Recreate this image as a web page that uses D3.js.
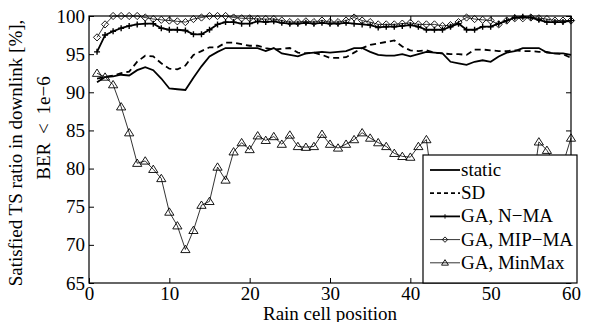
<!DOCTYPE html>
<html>
<head>
<meta charset="utf-8">
<script src="https://cdn.jsdelivr.net/npm/d3@7"></script>
<style>
  body { margin: 0; background: #fff; }
  svg { display: block; }
  svg text { font-family: "Liberation Serif", "Times New Roman", serif; fill: #000; }
</style>
</head>
<body>
<div id="chart"></div>
<script>
// rain cell positions (x categories)
const positions = [1,2,3,4,5,6,7,8,9,10,11,12,13,14,15,16,17,18,19,20,21,22,23,24,25,26,27,28,29,30,
  31,32,33,34,35,36,37,38,39,40,41,42,43,44,45,46,47,48,49,50,51,52,53,54,55,56,57,58,59,60];

const staticVals = [91.3,92.0,92.1,92.3,92.2,92.9,93.3,92.9,91.8,90.5,90.4,90.3,91.9,93.4,94.7,95.3,95.8,95.8,95.8,95.8,
  95.8,95.4,95.8,95.1,94.9,94.7,95.1,95.2,95.3,95.2,95.3,95.4,95.8,95.8,95.3,94.9,94.8,94.8,95.0,94.7,
  95.0,95.3,95.2,95.1,94.0,93.8,93.6,94.0,94.2,94.0,94.7,95.2,95.4,95.8,95.8,95.8,95.2,95.1,95.1,94.9];

const sdVals = [91.8,92.0,92.2,92.5,92.7,94.0,94.8,94.7,93.8,93.1,93.0,93.5,94.9,95.4,95.9,95.9,96.5,96.5,96.3,96.1,
  96.1,95.8,95.6,95.7,95.8,95.2,95.1,95.2,94.9,94.5,94.5,94.6,95.2,95.8,96.2,96.4,96.6,96.8,96.0,95.5,
  95.4,95.5,95.2,95.1,95.0,95.0,94.9,95.6,95.6,95.5,95.4,95.4,95.5,95.4,95.4,95.3,95.3,95.1,95.0,94.5];

const nmaVals = [95.3,97.5,98.0,98.4,98.7,98.9,99.0,99.0,98.4,98.2,98.2,98.1,97.6,97.6,98.2,98.9,99.2,99.2,99.0,99.0,
  99.3,99.2,99.3,99.1,99.0,99.0,99.1,99.0,99.1,99.0,99.0,99.1,99.0,98.9,98.8,98.5,98.6,98.6,98.7,98.8,
  98.6,98.2,98.2,98.2,98.6,99.0,98.2,98.2,98.6,98.6,99.0,99.4,99.8,99.9,99.8,99.5,99.2,99.2,99.2,99.4];

const mipVals = [97.2,98.9,100,100,100,100,99.8,99.6,99.5,99.4,99.3,99.2,99.6,99.8,100,100,100,99.8,99.7,99.7,
  99.6,99.6,99.6,99.4,99.2,99.2,99.3,99.2,99.4,99.2,99.2,99.4,99.8,99.4,99.2,98.9,98.9,98.9,99.0,99.1,
  98.9,98.9,98.9,98.7,98.8,99.2,99.8,99.6,99.5,99.4,98.9,99.4,99.7,99.7,99.8,99.7,99.6,99.4,99.4,99.4];

const minmaxVals = [92.5,92.0,91.0,88.1,84.7,80.7,81.0,79.9,78.7,74.3,72.5,69.4,71.9,75.2,75.7,80.2,78.5,82.2,83.4,82.5,
  84.3,83.7,84.2,83.2,84.4,82.9,82.8,82.9,84.5,83.2,82.7,83.2,83.8,84.7,84.0,83.4,82.9,82.0,81.6,81.5,
  82.9,83.8,76.0,75.5,77.0,76.5,78.0,77.5,76.8,77.8,78.5,77.0,76.5,77.2,76.2,83.5,82.4,80.6,80.6,84.0];

const seriesNames = ['static', 'SD', 'GA, N\u2212MA', 'GA, MIP\u2212MA', 'GA, MinMax'];
const xTicks = [0, 10, 20, 30, 40, 50, 60];
const yTicks = [65, 70, 75, 80, 85, 90, 95, 100];
const xTitle = 'Rain cell position';
const yTitle = ['Satisfied TS ratio in downlink [%],', 'BER < 1e\u22126'];

const W = 589, H = 322;
const plot = { left: 89, right: 571, top: 16, bottom: 283 };
const FONT = '"Liberation Serif", "Times New Roman", serif';
const FS = 19;

const svg = d3.select('#chart').append('svg')
  .attr('width', W)
  .attr('height', H);

const x = d3.scaleLinear().domain([0, 60]).range([plot.left, plot.right]);
const y = d3.scaleLinear().domain([65, 100]).range([plot.bottom, plot.top]);

function styleAxis(g) {
  g.attr('font-family', FONT).attr('font-size', FS);
  g.select('.domain').remove();
  g.selectAll('.tick line').attr('stroke', '#000');
  g.selectAll('.tick text').attr('fill', '#000');
}

// axes, ticks pointing inward
svg.append('g')
  .attr('transform', `translate(0,${plot.bottom})`)
  .call(d3.axisBottom(x).tickValues(xTicks).tickSize(-5).tickPadding(4))
  .call(styleAxis);

svg.append('g')
  .attr('transform', `translate(0,${plot.top})`)
  .call(d3.axisTop(x).tickValues(xTicks).tickSize(-5).tickFormat(''))
  .call(styleAxis);

svg.append('g')
  .attr('transform', `translate(${plot.left},0)`)
  .call(d3.axisLeft(y).tickValues(yTicks).tickSize(-5).tickPadding(4))
  .call(styleAxis);

svg.append('g')
  .attr('transform', `translate(${plot.right},0)`)
  .call(d3.axisRight(y).tickValues(yTicks).tickSize(-5).tickFormat(''))
  .call(styleAxis);

svg.append('rect')
  .attr('x', plot.left)
  .attr('y', plot.top)
  .attr('width', plot.right - plot.left)
  .attr('height', plot.bottom - plot.top)
  .attr('fill', 'none')
  .attr('stroke', '#000')
  .attr('stroke-width', 1.2);

// axis titles
svg.append('text')
  .attr('x', (plot.left + plot.right) / 2)
  .attr('y', 319.5)
  .attr('text-anchor', 'middle')
  .attr('font-size', FS)
  .text(xTitle);

svg.append('text')
  .attr('transform', 'translate(22,153) rotate(-90)')
  .attr('text-anchor', 'middle')
  .attr('font-size', FS)
  .text(yTitle[0]);

svg.append('text')
  .attr('transform', 'translate(50,128) rotate(-90)')
  .attr('text-anchor', 'middle')
  .attr('font-size', FS)
  .attr('word-spacing', 4)
  .text(yTitle[1]);

// series
const series = [
  { name: seriesNames[0], vals: staticVals, width: 1.8, dash: null, marker: null },
  { name: seriesNames[1], vals: sdVals, width: 1.8, dash: '6,4', marker: null },
  { name: seriesNames[2], vals: nmaVals, width: 1.8, dash: null, marker: 'plus' },
  { name: seriesNames[3], vals: mipVals, width: 0.8, dash: null, marker: 'diamond' },
  { name: seriesNames[4], vals: minmaxVals, width: 0.8, dash: null, marker: 'triangle' }
];

const line = d3.line()
  .x(d => x(d.pos))
  .y(d => y(d.val));

function markerPath(type, s) {
  if (type === 'plus') return `M${-s},0H${s}M0,${-s}V${s}`;
  if (type === 'diamond') return `M0,${-s}L${s},0L0,${s}L${-s},0Z`;
  if (type === 'triangle') return `M0,${-s}L${s * 1.1},${s * 0.75}L${-s * 1.1},${s * 0.75}Z`;
  return '';
}
const markerSize = { plus: 3, diamond: 3.6, triangle: 4.2 };

series.forEach(s => {
  const pts = positions.map((p, i) => ({ pos: p, val: s.vals[i] }));
  svg.append('path')
    .datum(pts)
    .attr('fill', 'none')
    .attr('stroke', '#000')
    .attr('stroke-width', s.width)
    .attr('stroke-dasharray', s.dash)
    .attr('d', line);

  if (s.marker) {
    svg.append('g')
      .selectAll('path')
      .data(pts)
      .join('path')
      .attr('transform', d => `translate(${x(d.pos)},${y(d.val)})`)
      .attr('d', markerPath(s.marker, markerSize[s.marker]))
      .attr('fill', 'none')
      .attr('stroke', '#000')
      .attr('stroke-width', s.marker === 'plus' ? 1.4 : 0.9);
  }
});

// legend
const lg = svg.append('g');
lg.append('rect')
  .attr('x', 423)
  .attr('y', 155)
  .attr('width', 154)
  .attr('height', 128)
  .attr('fill', '#fff')
  .attr('stroke', '#000')
  .attr('stroke-width', 1.2);

series.forEach((s, i) => {
  const cy = 170 + i * 23.2;
  lg.append('line')
    .attr('x1', 430).attr('x2', 460)
    .attr('y1', cy).attr('y2', cy)
    .attr('stroke', '#000')
    .attr('stroke-width', s.width)
    .attr('stroke-dasharray', s.dash ? '4,3' : null);
  if (s.marker) {
    lg.append('path')
      .attr('transform', `translate(445,${cy})`)
      .attr('d', markerPath(s.marker, markerSize[s.marker] * 0.75))
      .attr('fill', 'none')
      .attr('stroke', '#000')
      .attr('stroke-width', 0.9);
  }
  lg.append('text')
    .attr('x', 461)
    .attr('y', cy + 6)
    .attr('font-size', FS)
    .text(s.name);
});
</script>
</body>
</html>
